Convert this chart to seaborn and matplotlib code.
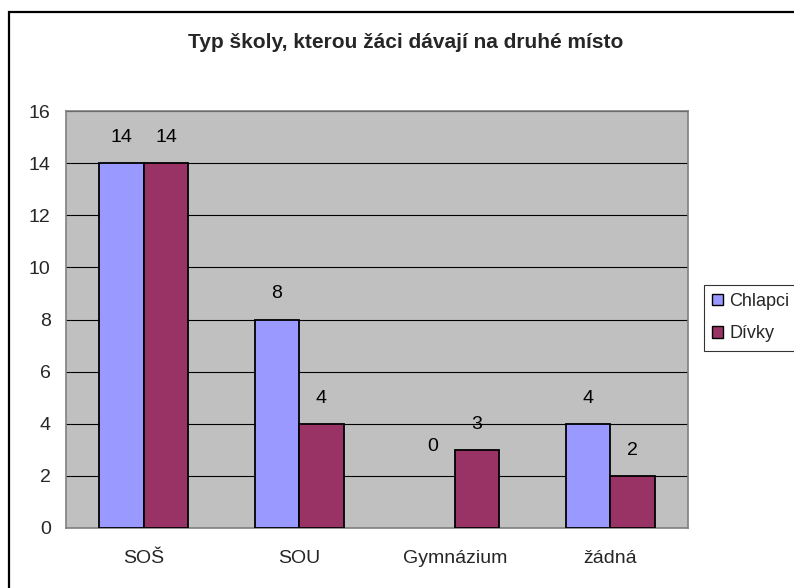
import matplotlib
matplotlib.use("Agg")
import matplotlib.pyplot as plt
import seaborn as sns
import pandas as pd
from matplotlib.patches import Rectangle

categories = ["SOŠ", "SOU", "Gymnázium", "žádná"]
chlapci = [14, 8, 0, 4]
divky = [14, 4, 3, 2]
series_names = ["Chlapci", "Dívky"]
yticks = [0, 2, 4, 6, 8, 10, 12, 14, 16]
title = "Typ školy, kterou žáci dávají na druhé místo"

df = pd.DataFrame({
    "kategorie": categories * 2,
    "hodnota": chlapci + divky,
    "serie": [series_names[0]] * len(categories) + [series_names[1]] * len(categories),
})

sns.set_style("white")
plt.rcParams["font.family"] = ["Liberation Sans", "DejaVu Sans"]

FS = 14
W, H = 794, 588
fig = plt.figure(figsize=(W / 100, H / 100), dpi=100)
L, R, T, B = 66, 688, 111, 528
ax = fig.add_axes([L / W, 1 - B / H, (R - L) / W, (B - T) / H])

sns.barplot(data=df, x="kategorie", y="hodnota", hue="serie", ax=ax,
            palette=["#9999FF", "#993366"], width=0.571, saturation=1,
            edgecolor="black", linewidth=1.3, dodge=True, legend=True, zorder=3)

ax.set_facecolor("#C0C0C0")
ax.set_ylim(0, 16)
ax.set_xlim(-0.5, len(categories) - 0.5)
ax.set_yticks(yticks)
ax.set_yticklabels([str(t) for t in yticks], fontsize=FS)
ax.yaxis.grid(True, color="black", linewidth=0.8, zorder=0)
ax.set_axisbelow(True)
ax.set_xlabel("")
ax.set_ylabel("")

# category ticks at boundaries, labels at centers
ax.set_xticks([i + 0.5 for i in range(-1, len(categories))], minor=False)
ax.set_xticklabels([""] * (len(categories) + 1))
ax.set_xticks(range(len(categories)), minor=True)
ax.set_xticklabels(categories, minor=True, fontsize=FS)
ax.tick_params(axis="x", which="minor", length=0, pad=16)
ax.tick_params(axis="x", which="major", length=5, width=0.8, color="black", direction="out")
ax.tick_params(axis="y", length=5, width=0.8, color="black", direction="out", pad=6)

for side in ["top", "right", "left", "bottom"]:
    ax.spines[side].set_color("#808080")
    ax.spines[side].set_linewidth(1.2)

for cont in ax.containers:
    for bar in cont:
        h = bar.get_height()
        if h == 0:
            bar.set_linewidth(0)
        off = 18.5 if h > 0 else 59
        ax.annotate(f"{int(round(h))}", xy=(bar.get_x() + bar.get_width() / 2, h),
                    xytext=(0, off), textcoords="offset points",
                    ha="center", va="center", fontsize=FS, color="black")

leg = ax.legend(loc="upper left", bbox_to_anchor=(704 / W, 1 - 285 / H),
                bbox_transform=fig.transFigure, frameon=True, fancybox=False,
                fontsize=13, handlelength=0.6, handleheight=0.6,
                handletextpad=0.35, borderpad=0.45, labelspacing=0.85,
                borderaxespad=0)
leg.get_frame().set_edgecolor("black")
leg.get_frame().set_linewidth(0.8)
for p in leg.get_patches():
    p.set_edgecolor("black")
    p.set_linewidth(1.0)

fig.text(406 / W, 1 - 42 / H, title, ha="center", va="center",
         fontsize=15, fontweight="bold")

fig.patches.append(Rectangle((9 / W, -0.05), 1.2, 1 - 12 / H + 0.05,
                             transform=fig.transFigure, fill=False,
                             edgecolor="black", linewidth=1.6, zorder=0))

fig.savefig("out.png", dpi=100)
